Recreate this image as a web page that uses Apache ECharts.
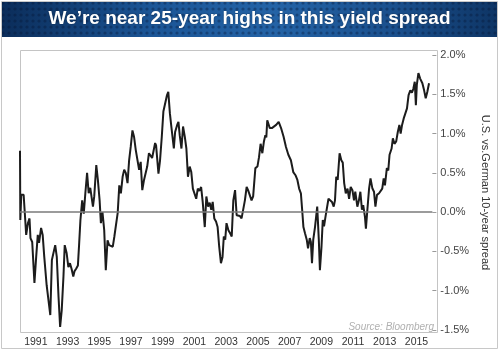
<!DOCTYPE html>
<html>
<head>
<meta charset="utf-8">
<title>US vs German 10-year spread</title>
<script src="https://cdn.jsdelivr.net/npm/echarts@6/dist/echarts.min.js"></script>
<style>
  html, body { margin: 0; padding: 0; background: #fff; }
  #chart { width: 499px; height: 351px; }
</style>
</head>
<body>
<div id="chart"></div>
<script>
// decimal years
var dates = [
  1990.00, 1990.02, 1990.08, 1990.23, 1990.29, 1990.39, 1990.50, 1990.60, 1990.66, 1990.77, 1990.91,
  1991.02, 1991.12, 1991.20, 1991.33, 1991.43, 1991.53, 1991.68, 1991.80, 1991.91,
  1992.01, 1992.11, 1992.22, 1992.32, 1992.43, 1992.53, 1992.63, 1992.74, 1992.82, 1992.94,
  1993.05, 1993.15, 1993.25, 1993.36, 1993.44, 1993.54, 1993.65, 1993.73, 1993.81, 1993.92,
  1994.02, 1994.12, 1994.23, 1994.33, 1994.43, 1994.60, 1994.68, 1994.81, 1994.91,
  1995.02, 1995.10, 1995.20, 1995.31, 1995.41, 1995.52, 1995.62, 1995.72, 1995.85, 1995.95,
  1996.05, 1996.16, 1996.26, 1996.36, 1996.47, 1996.57, 1996.67, 1996.78, 1996.88, 1996.98,
  1997.09, 1997.19, 1997.30, 1997.40, 1997.51, 1997.61, 1997.71, 1997.82, 1997.92,
  1998.02, 1998.13, 1998.23, 1998.33, 1998.44, 1998.52, 1998.58, 1998.73, 1998.83, 1998.94,
  1999.04, 1999.14, 1999.27, 1999.35, 1999.45, 1999.53, 1999.62, 1999.70, 1999.78, 1999.91, 1999.99,
  2000.07, 2000.18, 2000.28, 2000.39, 2000.49, 2000.59, 2000.70, 2000.80, 2000.90,
  2001.00, 2001.11, 2001.21, 2001.31, 2001.42, 2001.52, 2001.65, 2001.75, 2001.86, 2001.96,
  2002.06, 2002.15, 2002.25, 2002.36, 2002.46, 2002.56, 2002.67, 2002.77, 2002.85, 2002.94,
  2003.02, 2003.14, 2003.25, 2003.35, 2003.45, 2003.56, 2003.66, 2003.76, 2003.87, 2003.97,
  2004.07, 2004.18, 2004.29, 2004.38, 2004.49, 2004.60, 2004.70, 2004.84, 2004.97,
  2005.07, 2005.17, 2005.28, 2005.38, 2005.47, 2005.53, 2005.59, 2005.67, 2005.75, 2005.88,
  2006.00, 2006.15, 2006.31, 2006.46, 2006.62, 2006.77, 2006.92,
  2007.08, 2007.23, 2007.37, 2007.49, 2007.60, 2007.71, 2007.79, 2007.87, 2007.97,
  2008.08, 2008.16, 2008.27, 2008.34, 2008.41, 2008.49, 2008.60, 2008.74, 2008.84, 2008.91,
  2009.01, 2009.09, 2009.17, 2009.26, 2009.36, 2009.45, 2009.57, 2009.67, 2009.78, 2009.86, 2009.94,
  2010.03, 2010.15, 2010.26, 2010.35, 2010.44, 2010.54, 2010.65, 2010.75, 2010.85, 2010.96,
  2011.06, 2011.14, 2011.27, 2011.37, 2011.46, 2011.56, 2011.64, 2011.75, 2011.81, 2011.91,
  2012.01, 2012.10, 2012.22, 2012.32, 2012.41, 2012.51, 2012.64, 2012.74, 2012.84, 2012.93,
  2013.01, 2013.13, 2013.22, 2013.30, 2013.43, 2013.51, 2013.61, 2013.72, 2013.82, 2013.92,
  2014.00, 2014.09, 2014.19, 2014.29, 2014.40, 2014.50, 2014.61, 2014.71, 2014.80, 2014.89, 2014.96,
  2015.02, 2015.12, 2015.23, 2015.37, 2015.48, 2015.58, 2015.68, 2015.79
];

// US minus German 10-year yield, percent
var spread = [
  0.78, -0.10, 0.22, 0.22, 0.03, -0.29, -0.14, -0.08, -0.33, -0.38, -0.90,
  -0.57, -0.29, -0.39, -0.20, -0.29, -0.57, -0.93, -0.91, -1.31,
  -0.61, -0.60, -0.42, -0.57, -1.08, -1.46, -1.25, -0.82, -0.42, -0.52,
  -0.70, -0.65, -0.72, -0.82, -0.75, -0.72, -0.68, -0.40, -0.10, 0.15,
  -0.02, 0.24, 0.50, 0.24, 0.31, 0.07, 0.20, 0.60, 0.41,
  0.15, -0.14, 0.00, -0.23, -0.74, -0.36, -0.42, -0.42, -0.44, -0.31,
  -0.29, -0.01, 0.34, 0.24, 0.45, 0.54, 0.50, 0.37, 0.66, 0.83,
  1.04, 0.96, 0.79, 0.77, 0.54, 0.64, 0.28, 0.41, 0.43,
  0.58, 0.75, 0.73, 0.69, 0.70, 0.88, 0.85, 0.49, 0.66, 0.96,
  1.28, 1.30, 1.49, 1.53, 1.26, 1.11, 1.10, 0.81, 1.02, 1.11, 1.15,
  0.98, 0.81, 1.09, 0.96, 0.81, 0.45, 0.58, 0.51, 0.30,
  0.31, 0.17, 0.30, 0.27, 0.32, 0.13, -0.19, 0.20, 0.07, 0.12,
  0.03, 0.13, -0.08, -0.12, -0.19, -0.44, -0.65, -0.57, -0.31, -0.35,
  -0.14, -0.23, -0.27, -0.31, 0.15, 0.28, -0.04, -0.06, -0.05, -0.08,
  -0.06, 0.15, 0.32, 0.28, 0.28, 0.15, 0.20, 0.56, 0.58,
  0.70, 0.87, 0.75, 0.90, 0.98, 0.95, 1.17, 1.19, 1.07, 1.07,
  1.09, 1.11, 1.15, 1.07, 0.96, 0.83, 0.73,
  0.66, 0.51, 0.47, 0.41, 0.30, 0.24, 0.03, -0.19, -0.27,
  -0.35, -0.46, -0.33, -0.38, -0.65, -0.35, -0.19, 0.07, -0.35, -0.74,
  -0.44, -0.10, -0.18, -0.06, -0.06, 0.17, 0.15, 0.13, 0.07, 0.15, 0.45,
  0.41, 0.75, 0.66, 0.63, 0.37, 0.24, 0.30, 0.17, 0.32, 0.28,
  0.15, 0.26, 0.07, 0.15, 0.26, 0.03, 0.09, -0.06, -0.21, 0.05,
  0.30, 0.43, 0.30, 0.26, 0.07, 0.22, 0.24, 0.22, 0.30, 0.43,
  0.34, 0.56, 0.53, 0.73, 0.81, 0.94, 0.87, 0.90, 1.02, 1.11,
  1.00, 1.11, 1.19, 1.17, 1.32, 1.49, 1.55, 1.52, 1.57, 1.66, 1.36,
  1.62, 1.77, 1.70, 1.64, 1.55, 1.45, 1.53, 1.64
];

var tickYears = [1991, 1993, 1995, 1997, 1999, 2001, 2003, 2005, 2007, 2009, 2011, 2013, 2015];

var titleText = 'We\u2019re near 25-year highs in this yield spread';
var axisName = 'U.S. vs.German 10-year spread';
var sourceText = 'Source: Bloomberg';

var font = '"Liberation Sans", Arial, sans-serif';

// small dot texture for the title banner
var makeDots = function () {
  var c = document.createElement('canvas');
  c.width = 6;
  c.height = 6;
  var ctx = c.getContext('2d');
  ctx.fillStyle = 'rgba(5, 20, 50, 0.45)';
  ctx.beginPath();
  ctx.arc(3, 3, 1.6, 0, Math.PI * 2);
  ctx.fill();
  return c;
};

var seriesData = [];
for (var i = 0; i < dates.length; i++) {
  seriesData.push([dates[i], spread[i]]);
}

var chart = echarts.init(document.getElementById('chart'), null, {renderer: 'canvas'});

var option = {
  animation: false,
  backgroundColor: '#fff',
  title: {
    text: titleText,
    left: 'center',
    top: 9,
    padding: 0,
    textStyle: {
      color: '#fff',
      fontSize: 19,
      fontWeight: 'bold',
      fontFamily: font,
      textShadowColor: 'rgba(0,0,0,0.35)',
      textShadowBlur: 2
    }
  },
  grid: {
    left: 20,
    right: 61,
    top: 55,
    bottom: 21
  },
  xAxis: {
    type: 'value',
    min: 1990,
    max: 2016,
    interval: 1,
    axisLine: {show: false},
    axisTick: {show: false},
    splitLine: {show: false},
    axisLabel: {
      margin: 7,
      color: '#333',
      fontSize: 10.5,
      fontFamily: font,
      formatter: function (v) {
        return tickYears.indexOf(v) >= 0 ? String(v) : '';
      }
    }
  },
  yAxis: {
    type: 'value',
    position: 'right',
    min: -1.5,
    max: 2.0,
    interval: 0.5,
    name: axisName,
    nameLocation: 'middle',
    nameRotate: -90,
    nameGap: 35,
    nameTextStyle: {
      color: '#333',
      fontSize: 11,
      fontFamily: font
    },
    axisLine: {show: false},
    axisTick: {
      show: true,
      length: 4,
      lineStyle: {color: '#999'}
    },
    splitLine: {show: false},
    axisLabel: {
      margin: 8,
      color: '#444',
      fontSize: 11,
      fontFamily: font,
      formatter: function (v) {
        return v.toFixed(1) + '%';
      }
    }
  },
  graphic: [
    {
      type: 'rect',
      z: -10,
      shape: {x: 1.5, y: 1.5, width: 496, height: 347},
      style: {fill: '#fff', stroke: '#c8c8c8', lineWidth: 1}
    },
    {
      type: 'rect',
      z: -5,
      shape: {x: 2, y: 2, width: 495, height: 35},
      style: {
        fill: new echarts.graphic.LinearGradient(0, 0, 1, 0, [
          {offset: 0, color: '#0b2d5a'},
          {offset: 0.3, color: '#1b5596'},
          {offset: 0.55, color: '#2463a6'},
          {offset: 0.8, color: '#1a4f8c'},
          {offset: 1, color: '#0e3565'}
        ])
      }
    },
    {
      type: 'rect',
      z: -4,
      shape: {x: 2, y: 2, width: 495, height: 35},
      style: {fill: {image: makeDots(), repeat: 'repeat'}, opacity: 0.8}
    },
    {
      type: 'rect',
      z: -3,
      shape: {x: 20.5, y: 50.5, width: 417, height: 282},
      style: {fill: 'none', stroke: '#c4c4c4', lineWidth: 1}
    },
    {
      type: 'text',
      z: 5,
      x: 434,
      y: 327,
      style: {
        text: sourceText,
        align: 'right',
        verticalAlign: 'middle',
        fill: '#b0b0b0',
        font: 'italic 10px "Liberation Sans", Arial, sans-serif'
      }
    }
  ],
  series: [
    {
      type: 'line',
      data: seriesData,
      showSymbol: false,
      symbol: 'none',
      lineStyle: {color: '#1c1c1c', width: 2},
      z: 3,
      markLine: {
        silent: true,
        symbol: 'none',
        label: {show: false},
        lineStyle: {color: '#7a7a7a', width: 1.5, type: 'solid'},
        data: [{yAxis: 0}]
      }
    }
  ]
};

chart.setOption(option);
</script>
</body>
</html>
